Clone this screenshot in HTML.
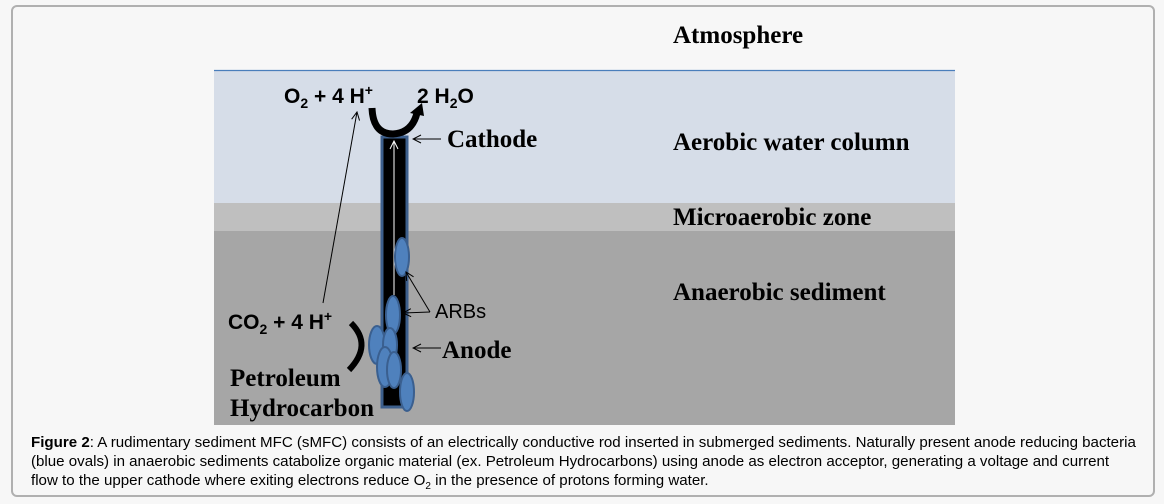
<!DOCTYPE html>
<html><head><meta charset="utf-8"><style>
html,body{margin:0;padding:0;background:#f7f7f7;}
body{width:1164px;height:504px;position:relative;overflow:hidden;}
.frame{position:absolute;left:11px;top:5px;width:1144px;height:492px;border:2px solid #b0b0b0;border-radius:6px;box-sizing:border-box;}
.cap{position:absolute;left:31px;top:433px;width:1125px;font-family:"Liberation Sans",sans-serif;font-size:15.1px;line-height:19px;color:#000;white-space:nowrap;}
svg{position:absolute;left:0;top:0;}
.s{font-family:"Liberation Serif",serif;font-weight:bold;font-size:25px;}
.c{font-family:"Liberation Sans",sans-serif;font-weight:bold;font-size:21px;}
</style></head><body>
<div class="frame"></div>
<svg width="1164" height="504" viewBox="0 0 1164 504">
<defs><marker id="a" markerWidth="10" markerHeight="10" refX="9" refY="5" orient="auto" markerUnits="userSpaceOnUse"><path d="M1,1 L9,5 L1,9" fill="none" stroke="#000" stroke-width="1"/></marker>
<marker id="w" markerWidth="10" markerHeight="10" refX="9" refY="5" orient="auto" markerUnits="userSpaceOnUse"><path d="M1,1 L9,5 L1,9" fill="none" stroke="#fff" stroke-width="1"/></marker></defs>
<rect x="214" y="70" width="741" height="133" fill="#d6dde8"/>
<line x1="214" y1="70.5" x2="955" y2="70.5" stroke="#4a7ebb" stroke-width="1.2"/>
<rect x="214" y="203" width="741" height="28" fill="#bfbfbf"/>
<rect x="214" y="231" width="741" height="194" fill="#a6a6a6"/>
<text x="673" y="43" class="s">Atmosphere</text>
<text x="673" y="150" class="s">Aerobic water column</text>
<text x="673" y="225" class="s">Microaerobic zone</text>
<text x="673" y="300" class="s">Anaerobic sediment</text>
<rect x="382" y="137" width="25" height="270" fill="#000" stroke="#3d5f8c" stroke-width="3"/>
<line x1="394" y1="295" x2="394" y2="141" stroke="#fff" stroke-width="1" marker-end="url(#w)"/>
<path d="M372,108 Q373,134 393,134 Q412,133 417,113" fill="none" stroke="#000" stroke-width="7"/>
<path d="M410,113 L422,103 L424,116 Z" fill="#000"/>
<path d="M351,323 Q373,345 349,370" fill="none" stroke="#000" stroke-width="6"/>
<text x="284" y="103" class="c">O<tspan font-size="14" dy="5">2</tspan><tspan dy="-5"> + 4 H</tspan><tspan font-size="14" dy="-8">+</tspan></text>
<text x="417" y="103" class="c">2 H<tspan font-size="14" dy="5">2</tspan><tspan dy="-5">O</tspan></text>
<text x="228" y="329" class="c">CO<tspan font-size="14" dy="5">2</tspan><tspan dy="-5"> + 4 H</tspan><tspan font-size="14" dy="-8">+</tspan></text>
<line x1="323" y1="303" x2="357" y2="112" stroke="#000" stroke-width="1" marker-end="url(#a)"/>
<line x1="441" y1="139" x2="413" y2="139" stroke="#000" stroke-width="1" marker-end="url(#a)"/>
<text x="447" y="147" class="s">Cathode</text>
<g fill="#4f81bd" stroke="#3a5f8f" stroke-width="2">
<ellipse cx="402" cy="257" rx="7" ry="19"/>
<ellipse cx="393" cy="315" rx="7" ry="19"/>
<ellipse cx="377" cy="345" rx="8" ry="19"/>
<ellipse cx="390" cy="345" rx="7" ry="17"/>
<ellipse cx="385" cy="367" rx="8" ry="20"/>
<ellipse cx="394" cy="370" rx="7" ry="18"/>
<ellipse cx="407" cy="392" rx="7" ry="19"/>
</g>
<line x1="430" y1="312" x2="406" y2="272" stroke="#000" stroke-width="1" marker-end="url(#a)"/>
<line x1="430" y1="312" x2="403" y2="313" stroke="#000" stroke-width="1" marker-end="url(#a)"/>
<text x="435" y="318" font-family="Liberation Sans,sans-serif" font-size="20">ARBs</text>
<line x1="441" y1="348" x2="413" y2="348" stroke="#000" stroke-width="1" marker-end="url(#a)"/>
<text x="442" y="358" class="s">Anode</text>
<text x="230" y="386" class="s">Petroleum</text>
<text x="230" y="416" class="s">Hydrocarbon</text>
</svg>
<div class="cap"><b>Figure 2</b>: A rudimentary sediment MFC (sMFC) consists of an electrically conductive rod inserted in submerged sediments. Naturally present anode reducing bacteria<br>(blue ovals) in anaerobic sediments catabolize organic material (ex. Petroleum Hydrocarbons) using anode as electron acceptor, generating a voltage and current<br>flow to the upper cathode where exiting electrons reduce O<sub style="font-size:10px">2</sub> in the presence of protons forming water.</div>
</body></html>
